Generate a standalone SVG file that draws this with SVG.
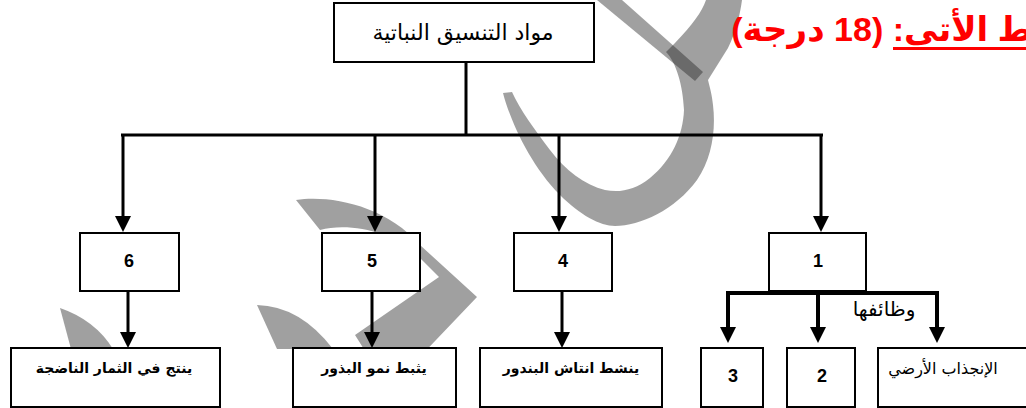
<svg xmlns="http://www.w3.org/2000/svg" width="1026" height="408" viewBox="0 0 1026 408">
<defs>
<style>
.box{fill:#fff;stroke:#000;stroke-width:2}
.ln{stroke:#000;stroke-width:3;fill:none}
.lnb{stroke:#000;stroke-width:4;fill:none}
.num{font-family:'Liberation Sans','DejaVu Sans',sans-serif;font-weight:bold;font-size:18px;text-anchor:middle}
.ar{font-family:'DejaVu Sans',sans-serif;font-size:16px;text-anchor:middle}
.arb{font-family:'DejaVu Sans',sans-serif;font-size:14px;font-weight:bold;text-anchor:middle}
.wm{fill:#222;fill-opacity:0.43}
</style>
<marker id="arr" markerUnits="userSpaceOnUse" markerWidth="16" markerHeight="16" viewBox="0 0 16 16" refX="8" refY="8" orient="auto">
<path d="M0,0 L16,8 L0,16 Z" fill="#000"/>
</marker>
</defs>
<rect width="1026" height="408" fill="#fff"/>
<g id="watermark">
<path class="wm" d="M597,0 L622,0 L703,72 L695,81 Z"/>
<path class="wm" d="M503,93 C510,120 530,165 560,195 C580,215 600,226 615,226 C640,226 675,210 697,180 C712,158 716,130 713,105 C712,95 710,88 708,80 L728,48 C736,32 740,15 742,0 L706,0 C702,12 692,25 675,43 L666,52 C676,62 683,85 684,110 C683,135 672,160 650,178 C635,190 620,193 605,190 C585,185 565,170 550,150 C535,130 520,110 512,92 Z"/>
<path class="wm" d="M296,200 C330,195 385,205 420,245 L477,297 L415,362 L372,362 L355,335 L439,277 L420,258 C395,232 350,222 320,230 Z"/>
<path class="wm" d="M257,305 Q300,306 333,349 L277,349 Z"/>
<path class="wm" d="M60,308 Q95,320 113,349 L71,349 Z"/>
</g>
<g id="connectors">
<path class="ln" d="M466,62 V135"/>
<path class="ln" d="M121,135 H823"/>
<path class="ln" d="M123,135 V224" marker-end="url(#arr)"/>
<path class="ln" d="M375,135 V224" marker-end="url(#arr)"/>
<path class="ln" d="M559,135 V224" marker-end="url(#arr)"/>
<path class="ln" d="M821,135 V224" marker-end="url(#arr)"/>
<path class="ln" d="M128,291 V340" marker-end="url(#arr)"/>
<path class="ln" d="M372,291 V340" marker-end="url(#arr)"/>
<path class="ln" d="M562,291 V340" marker-end="url(#arr)"/>
<path class="lnb" d="M726,293 H939"/>
<path class="lnb" d="M728,293 V335" marker-end="url(#arr)"/>
<path class="lnb" d="M818,293 V335" marker-end="url(#arr)"/>
<path class="lnb" d="M937,293 V335" marker-end="url(#arr)"/>
<text x="884" y="316" font-family="'DejaVu Sans',sans-serif" font-size="20" text-anchor="middle">وظائفها</text>
</g>
<g id="root">
<rect class="box" x="334" y="3" width="260" height="59" stroke-width="2.5"/>
<text x="463" y="40" font-family="'DejaVu Sans',sans-serif" font-size="22" text-anchor="middle">مواد التنسيق النباتية</text>
</g>
<g id="n6"><rect class="box" x="80" y="233" width="99" height="58"/><text class="num" x="129" y="267">6</text></g>
<g id="n5"><rect class="box" x="322" y="233" width="98" height="58"/><text class="num" x="372" y="267">5</text></g>
<g id="n4"><rect class="box" x="514" y="233" width="98" height="58"/><text class="num" x="563" y="267">4</text></g>
<g id="n1"><rect class="box" x="769" y="233" width="97" height="58"/><text class="num" x="818" y="267">1</text></g>
<g id="b6"><rect class="box" x="11" y="348" width="209" height="59"/><text class="arb" x="114" y="373">ينتج في الثمار الناضجة</text></g>
<g id="b5"><rect class="box" x="293" y="348" width="163" height="59"/><text class="arb" x="374" y="373">يثبط نمو البذور</text></g>
<g id="b4"><rect class="box" x="480" y="348" width="182" height="59"/><text class="arb" x="571" y="373">ينشط انتاش البندور</text></g>
<g id="b3"><rect class="box" x="701" y="348" width="62" height="59"/><text class="num" x="733" y="382">3</text></g>
<g id="b2"><rect class="box" x="787" y="348" width="68" height="59"/><text class="num" x="822" y="382">2</text></g>
<g id="bg"><rect class="box" x="878" y="348" width="160" height="59"/><text class="ar" x="943" y="374">الإنجذاب الأرضي</text></g>
<g id="heading">
<text x="1066" y="41" direction="rtl" text-anchor="start" font-family="'Liberation Sans','DejaVu Sans',sans-serif" font-size="34" font-weight="bold" fill="#f00">طط الأتي: (18 درجة)</text>
<rect x="893" y="47" width="140" height="3" fill="#f00"/>
</g>
</svg>
